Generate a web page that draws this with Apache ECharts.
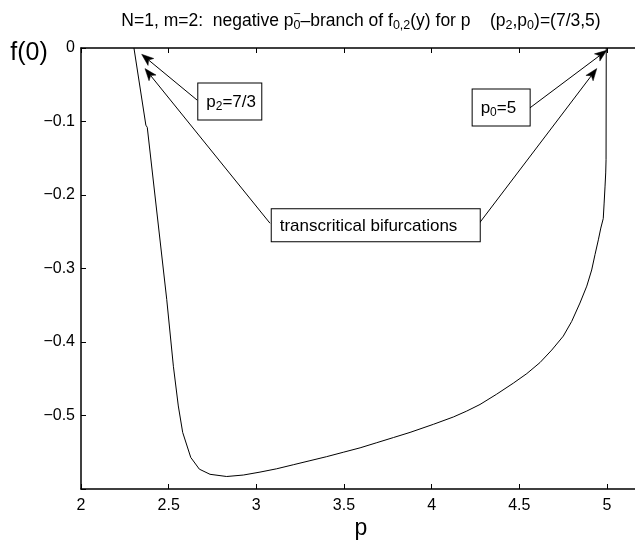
<!DOCTYPE html>
<html>
<head>
<meta charset="utf-8">
<script src="https://cdn.jsdelivr.net/npm/echarts@6/dist/echarts.min.js"></script>
<style>
  html, body { margin: 0; padding: 0; background: #fff; }
  #chart { width: 635px; height: 543px; }
</style>
</head>
<body>
<div id="chart"></div>
<script>
// Negative p0^- branch of f(0) as a function of p
const pValues = [
  2.302, 2.370, 2.378, 2.489, 2.527, 2.555, 2.580, 2.626, 2.675, 2.736,
  2.831, 2.926, 3.021, 3.116, 3.211, 3.306, 3.401, 3.496, 3.592, 3.687,
  3.782, 3.877, 4.010, 4.124, 4.200, 4.276, 4.371, 4.466, 4.543, 4.618,
  4.685, 4.751, 4.799, 4.846, 4.885, 4.913, 4.932, 4.951, 4.965, 4.979,
  4.984, 4.989, 4.993, 4.995, 4.996
];
const f0Values = [
  0.000, -0.105, -0.108, -0.342, -0.433, -0.487, -0.523, -0.557, -0.573, -0.580,
  -0.583, -0.581, -0.577, -0.5725, -0.567, -0.5615, -0.556, -0.550, -0.544, -0.537,
  -0.530, -0.523, -0.512, -0.502, -0.494, -0.485, -0.471, -0.456, -0.443, -0.428,
  -0.411, -0.392, -0.372, -0.347, -0.324, -0.302, -0.281, -0.261, -0.245, -0.232,
  -0.211, -0.189, -0.170, -0.152, 0.000
];

// Axis ticks
const xTickValues = [2, 2.5, 3, 3.5, 4, 4.5, 5];
const yTickValues = [0, -0.1, -0.2, -0.3, -0.4, -0.5];

// Annotation arrows (data coordinates): tail and tip
const arrowFrom = [[2.663, -0.0710], [3.078, -0.2384], [4.272, -0.2384], [4.561, -0.0814]];
const arrowTo   = [[2.346, -0.0086], [2.365, -0.0280], [4.942, -0.0280], [4.999, -0.0031]];

// Text boxes anchored at (left edge, vertical middle)
const boxTexts = ['p{sub|2}=7/3', 'transcritical bifurcations', 'p{sub|0}=5'];
const boxAnchors = [[2.669, -0.0728], [3.088, -0.2413], [4.234, -0.0808]];
const boxWidths = [47, 192, 41];

const FONT = '"Liberation Sans", Arial, Helvetica, sans-serif';
const TITLE_SIZE = 17.5;
const SUB_SIZE = 12.5;

const chart = echarts.init(document.getElementById('chart'), null, { renderer: 'canvas' });

const curve = pValues.map((p, i) => [p, f0Values[i]]);

const fmtX = v => xTickValues.some(t => Math.abs(t - v) < 1e-6) ? String(+v.toFixed(1)) : '';
const fmtY = v => {
  if (!yTickValues.some(t => Math.abs(t - v) < 1e-6)) return '';
  if (Math.abs(v) < 1e-9) return '0';
  return '\u2212' + Math.abs(v).toFixed(1);
};

const axisCommon = {
  type: 'value',
  axisLine: { show: true, onZero: false, lineStyle: { color: '#000', width: 1.5 } },
  axisTick: { show: true, inside: true, length: 5, lineStyle: { color: '#000', width: 1 } },
  splitLine: { show: false }
};

chart.setOption({
  animation: false,
  backgroundColor: '#fff',
  grid: { left: 81, top: 48, width: 561, height: 441, containLabel: false, outerBoundsMode: 'none' },
  xAxis: [
    Object.assign({}, axisCommon, {
      min: 2, max: 5.2, interval: 0.5, position: 'bottom',
      axisLabel: { formatter: fmtX, color: '#000', fontFamily: FONT, fontSize: 16, margin: 9 }
    }),
    Object.assign({}, axisCommon, {
      min: 2, max: 5.2, interval: 0.5, position: 'top',
      axisLabel: { show: false }
    })
  ],
  yAxis: [
    Object.assign({}, axisCommon, {
      min: -0.6, max: 0, interval: 0.1, position: 'left',
      axisLabel: { formatter: fmtY, color: '#000', fontFamily: FONT, fontSize: 16, margin: 6 }
    })
  ],
  series: [{
    type: 'line',
    data: curve,
    showSymbol: false,
    smooth: false,
    lineStyle: { color: '#000', width: 1 }
  }]
});

const rich = {
  sub: { fontSize: 12, fontFamily: FONT, color: '#000', padding: [9, 0, 0, 0] },
  tsub: { fontSize: SUB_SIZE, fontFamily: FONT, color: '#000', padding: [9, 0, 0, 0] }
};

// Measure text with the same fonts the chart uses
const ctx = document.createElement('canvas').getContext('2d');
function textWidth(str, size) {
  ctx.font = size + 'px ' + FONT;
  return ctx.measureText(str).width;
}

const graphics = [];

// Title: plain pieces and subscripts
const titleParts = [
  ['N=1, m=2:  negative p', 0], ['0', 1], ['\u2013branch of f', 0], ['0,2', 1],
  ['(y) for p    (p', 0], ['2', 1], [',p', 0], ['0', 1], [')=(7/3,5)', 0]
];
const titleText = titleParts.map(([s, sub]) => sub ? '{tsub|' + s + '}' : s).join('');
const titleCx = 361, titleY = 21;
const titleW = titleParts.reduce((w, [s, sub]) => w + textWidth(s, sub ? SUB_SIZE : TITLE_SIZE), 0);
const titleLeft = titleCx - titleW / 2;
graphics.push({
  type: 'text', x: titleLeft, y: titleY,
  style: {
    text: titleText, font: TITLE_SIZE + 'px ' + FONT, fill: '#000',
    align: 'left', verticalAlign: 'middle', rich: rich
  }
});
// superscript minus over the subscript of p0
const supX = titleLeft + textWidth(titleParts[0][0], TITLE_SIZE) + textWidth('0', SUB_SIZE) / 2;
graphics.push({
  type: 'text', x: supX, y: titleY - 6,
  style: { text: '\u2212', font: SUB_SIZE + 'px ' + FONT, fill: '#000', align: 'center', verticalAlign: 'middle' }
});

// Axis names
graphics.push({
  type: 'text', x: 29, y: 53,
  style: { text: 'f(0)', font: '25px ' + FONT, fill: '#000', align: 'center', verticalAlign: 'middle' }
});
graphics.push({
  type: 'text', x: 361, y: 529,
  style: { text: 'p', font: '23px ' + FONT, fill: '#000', align: 'center', verticalAlign: 'middle' }
});

// Arrows with filled, notched heads
const HEAD_LEN = 12, HEAD_HALF = 4.5, NOTCH = 3;
arrowFrom.forEach((from, i) => {
  const a = chart.convertToPixel({ gridIndex: 0 }, from);
  const b = chart.convertToPixel({ gridIndex: 0 }, arrowTo[i]);
  const dx = b[0] - a[0], dy = b[1] - a[1];
  const len = Math.hypot(dx, dy);
  const ux = dx / len, uy = dy / len;
  const nx = -uy, ny = ux;
  const back = [b[0] - ux * HEAD_LEN, b[1] - uy * HEAD_LEN];
  const notch = [b[0] - ux * (HEAD_LEN - NOTCH), b[1] - uy * (HEAD_LEN - NOTCH)];
  graphics.push({
    type: 'line', z: 5,
    shape: { x1: a[0], y1: a[1], x2: notch[0], y2: notch[1] },
    style: { stroke: '#000', lineWidth: 1 }
  });
  graphics.push({
    type: 'polygon', z: 5,
    shape: { points: [b, [back[0] + nx * HEAD_HALF, back[1] + ny * HEAD_HALF], notch,
                      [back[0] - nx * HEAD_HALF, back[1] - ny * HEAD_HALF]] },
    style: { fill: '#000', stroke: '#000', lineWidth: 0.5 }
  });
});

// Annotation boxes
boxTexts.forEach((t, i) => {
  const pt = chart.convertToPixel({ gridIndex: 0 }, boxAnchors[i]);
  graphics.push({
    type: 'text', x: pt[0], y: pt[1], z: 10,
    style: {
      text: t, font: '17px ' + FONT, fill: '#000',
      align: 'left', verticalAlign: 'middle',
      width: boxWidths[i],
      backgroundColor: '#fff', borderColor: '#000', borderWidth: 1,
      padding: [8, 8, 7, 8], rich: rich
    }
  });
});

chart.setOption({ graphic: graphics });
</script>
</body>
</html>
